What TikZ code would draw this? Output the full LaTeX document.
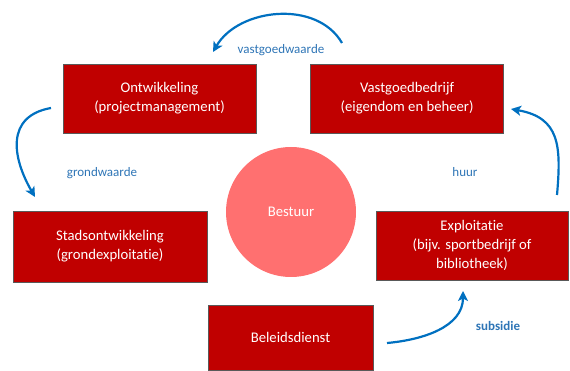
\documentclass[tikz,border=0pt]{standalone}
\usepackage{fontspec}
\setmainfont[Ligatures=NoCommon]{Carlito}
\usepackage{tikz}
\usetikzlibrary{arrows.meta, positioning}
\definecolor{deptred}{RGB}{192,0,0}
\definecolor{coresalmon}{RGB}{255,112,112}
\definecolor{flowblue}{RGB}{0,112,192}
\definecolor{labelblue}{RGB}{46,117,182}

\begin{document}
\begin{tikzpicture}[
  x=1pt,y=1pt,
  dept/.style={draw=black!65,line width=0.6pt,fill=deptred,text=white,align=center,font=\fontsize{14.7}{19}\selectfont,minimum width=193pt,minimum height=69pt},
  core/.style={circle,fill=coresalmon,text=white,font=\fontsize{14.7}{19}\selectfont,minimum size=130pt,inner sep=0pt},
  flow/.style={-{Stealth[length=10pt,width=10pt,inset=2.5pt]},line width=2.2pt,flowblue},
  flowlabel/.style={text=labelblue,font=\fontsize{13}{16}\selectfont,inner sep=1pt}
]
\useasboundingbox (0,0) rectangle (570,-371);
\node[dept] (ont) at (159.5,-98.5) {Ontwikkeling\\(projectmanagement)};
\node[dept,right=54pt of ont] (vast) {Vastgoedbedrijf\\(eigendom en beheer)};
\node[dept,minimum width=194pt,minimum height=71pt] (stad) at (110,-246.5) {Stadsontwikkeling\\(grondexploitatie)};
\node[dept,minimum width=192pt] (expl) at (472,-245.5) {Exploitatie\\(bijv. sportbedrijf of\\bibliotheek)};
\node[dept,minimum width=165pt,minimum height=65pt] (bel) at (290.5,-337.5) {Beleidsdienst};
\node[core] (best) at (291,-212) {Bestuur};

\coordinate (vw1) at (342,-43);
\coordinate (vw2) at (213,-52);
\coordinate (gw1) at (51,-108);
\coordinate (gw2) at (35,-197);
\coordinate (hu1) at (557,-195);
\coordinate (hu2) at (511,-109);
\coordinate (su1) at (387,-343);
\coordinate (su2) at (463,-291);

\draw[flow] (vw1) to[out=120,in=60] (vw2);
\draw[flow] (gw1) to[out=190,in=120,looseness=1.3] (gw2);
\draw[flow] (hu1) to[out=85,in=-10,looseness=1.3] (hu2);
\draw[flow] (su1) to[out=5,in=-90] (su2);

\node[flowlabel] (vwl) at (281,-50) {vastgoedwaarde};
\node[flowlabel] (gwl) at (102,-173) {grondwaarde};
\node[flowlabel] (hul) at (465,-172) {huur};
\node[flowlabel,font=\fontsize{13}{16}\selectfont\bfseries] (sul) at (498,-326) {subsidie};
\end{tikzpicture}
\end{document}
